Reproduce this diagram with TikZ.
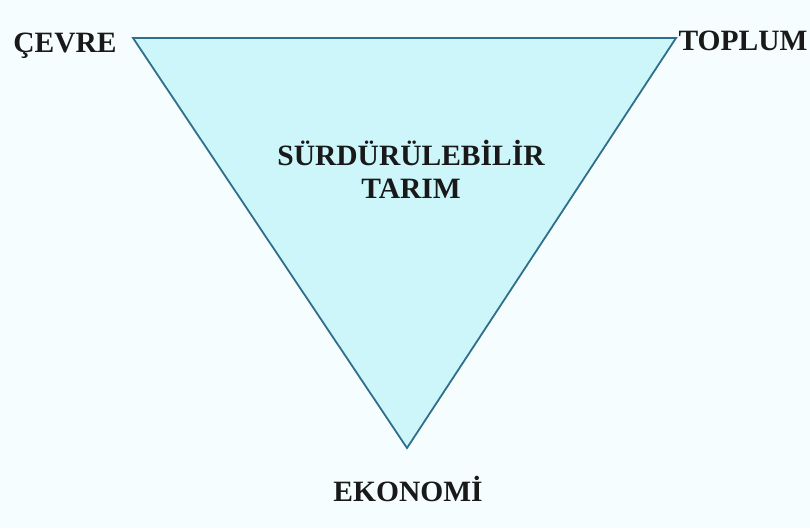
\documentclass[tikz,border=0pt]{standalone}
\usepackage{fontspec}
\setmainfont{Liberation Serif}
\begin{document}
\begin{tikzpicture}[x=1pt,y=-1pt,
  lbl/.style={font=\bfseries\fontsize{29.5}{33}\selectfont, text=black!90, inner sep=0pt}]
\definecolor{bgc}{HTML}{F6FDFF}
\definecolor{fillc}{HTML}{CCF6FA}
\definecolor{edgec}{HTML}{2F6F8C}
\fill[bgc] (0,0) rectangle (810,528);
\useasboundingbox (0,0) rectangle (810,528);
\coordinate (A) at (133,38);
\coordinate (B) at (676,38);
\coordinate (C) at (407,448);
\draw[edgec, fill=fillc, line width=1.8pt, line join=miter] (A) -- (B) -- (C) -- cycle;
\node[lbl] (cevre) at (65,46) {ÇEVRE};
\node[lbl] (toplum) at (743,41) {TOPLUM};
\node[lbl] (ekonomi) at (408,489) {EKONOMİ};
\node[lbl, align=center] (st) at (411,169) {SÜRDÜRÜLEBİLİR\\TARIM};
\end{tikzpicture}
\end{document}
